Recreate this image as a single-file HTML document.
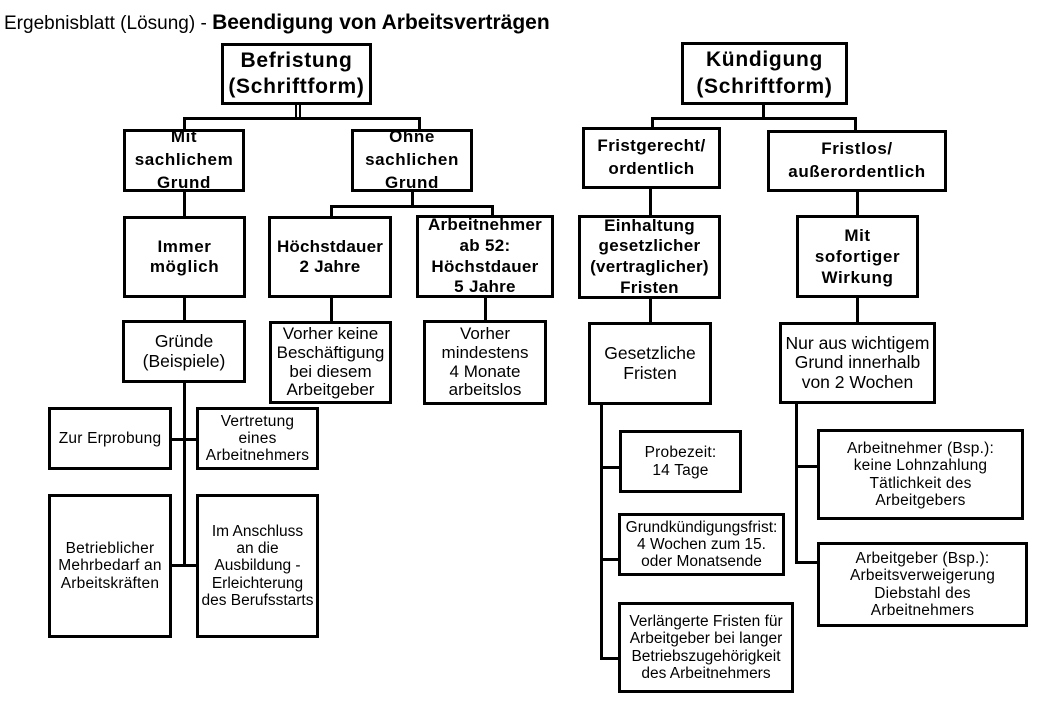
<!DOCTYPE html>
<html><head><meta charset="utf-8"><style>
body{margin:0;background:#fff;width:1042px;height:703px;position:relative;overflow:hidden;font-family:"Liberation Sans",Arial,sans-serif;color:#000}
.b{position:absolute;border:3px solid #000;box-sizing:border-box;display:flex;align-items:center;justify-content:center;text-align:center;background:#fff;line-height:1.2;white-space:nowrap}
.bd{font-weight:bold;font-size:17px;letter-spacing:0.6px}
.bg{font-weight:bold;font-size:21px;letter-spacing:0.7px;line-height:1.25}
.n{font-size:15.5px;line-height:1.1;letter-spacing:0.2px}
.m{font-size:17.5px;line-height:1.1}
.l{position:absolute;background:#000}
</style></head><body>
<div style="position:absolute;left:4px;top:11px;font-size:19px;white-space:nowrap">Ergebnisblatt (Lösung) - <b style="font-size:21px">Beendigung von Arbeitsverträgen</b></div>

<div class="l" style="left:295px;top:104px;width:2px;height:15px"></div>
<div class="l" style="left:299px;top:104px;width:2px;height:15px"></div>
<div class="l" style="left:183px;top:117px;width:238px;height:3px"></div>
<div class="l" style="left:183px;top:117px;width:3px;height:14px"></div>
<div class="l" style="left:418px;top:117px;width:3px;height:14px"></div>
<div class="l" style="left:411px;top:190px;width:3px;height:17px"></div>
<div class="l" style="left:330px;top:205px;width:164px;height:3px"></div>
<div class="l" style="left:330px;top:205px;width:3px;height:13px"></div>
<div class="l" style="left:491px;top:205px;width:3px;height:13px"></div>
<div class="l" style="left:183px;top:190px;width:3px;height:28px"></div>
<div class="l" style="left:183px;top:296px;width:3px;height:26px"></div>
<div class="l" style="left:330px;top:296px;width:3px;height:27px"></div>
<div class="l" style="left:484px;top:296px;width:3px;height:26px"></div>
<div class="l" style="left:183px;top:380px;width:3px;height:187px"></div>
<div class="l" style="left:170px;top:438px;width:28px;height:3px"></div>
<div class="l" style="left:170px;top:564px;width:28px;height:3px"></div>

<div class="b bg" style="left:221px;top:43px;width:151px;height:62px">Befristung<br>(Schriftform)</div>
<div class="b bd" style="left:123px;top:129px;width:122px;height:63px;line-height:1.35">Mit<br>sachlichem<br>Grund</div>
<div class="b bd" style="left:351px;top:129px;width:122px;height:63px;line-height:1.35">Ohne<br>sachlichen<br>Grund</div>
<div class="b bd" style="left:123px;top:216px;width:123px;height:82px">Immer<br>möglich</div>
<div class="b bd" style="left:268px;top:216px;width:124px;height:82px;letter-spacing:0.2px">Höchstdauer<br>2 Jahre</div>
<div class="b bd" style="left:416px;top:215px;width:138px;height:83px;line-height:1.22;letter-spacing:0.3px">Arbeitnehmer<br>ab 52:<br>Höchstdauer<br>5 Jahre</div>
<div class="b m" style="left:122px;top:320px;width:124px;height:63px">Gründe<br>(Beispiele)</div>
<div class="b m" style="left:269px;top:321px;width:123px;height:83px;font-size:17px;line-height:1.1">Vorher keine<br>Beschäftigung<br>bei diesem<br>Arbeitgeber</div>
<div class="b m" style="left:423px;top:320px;width:124px;height:85px;font-size:17px;line-height:1.1">Vorher<br>mindestens<br>4 Monate<br>arbeitslos</div>
<div class="b n" style="left:48px;top:407px;width:124px;height:63px">Zur Erprobung</div>
<div class="b n" style="left:196px;top:407px;width:123px;height:63px">Vertretung<br>eines<br>Arbeitnehmers</div>
<div class="b n" style="left:48px;top:494px;width:124px;height:144px">Betrieblicher<br>Mehrbedarf an<br>Arbeitskräften</div>
<div class="b n" style="left:196px;top:494px;width:123px;height:144px;letter-spacing:0">Im Anschluss<br>an die<br>Ausbildung -<br>Erleichterung<br>des Berufsstarts</div>

<div class="l" style="left:762px;top:103px;width:3px;height:16px"></div>
<div class="l" style="left:651px;top:117px;width:206px;height:3px"></div>
<div class="l" style="left:651px;top:117px;width:3px;height:12px"></div>
<div class="l" style="left:854px;top:117px;width:3px;height:15px"></div>
<div class="l" style="left:649px;top:187px;width:3px;height:30px"></div>
<div class="l" style="left:856px;top:190px;width:3px;height:27px"></div>
<div class="l" style="left:649px;top:297px;width:3px;height:27px"></div>
<div class="l" style="left:856px;top:296px;width:3px;height:28px"></div>
<div class="l" style="left:600px;top:403px;width:3px;height:257px"></div>
<div class="l" style="left:600px;top:466px;width:20px;height:3px"></div>
<div class="l" style="left:600px;top:558px;width:20px;height:3px"></div>
<div class="l" style="left:600px;top:657px;width:20px;height:3px"></div>
<div class="l" style="left:795px;top:402px;width:3px;height:162px"></div>
<div class="l" style="left:795px;top:465px;width:24px;height:3px"></div>
<div class="l" style="left:795px;top:561px;width:24px;height:3px"></div>

<div class="b bg" style="left:681px;top:42px;width:167px;height:63px">Kündigung<br>(Schriftform)</div>
<div class="b bd" style="left:582px;top:127px;width:139px;height:62px;line-height:1.35;letter-spacing:0.4px">Fristgerecht/<br>ordentlich</div>
<div class="b bd" style="left:767px;top:130px;width:180px;height:62px;line-height:1.35">Fristlos/<br>außerordentlich</div>
<div class="b bd" style="left:578px;top:215px;width:143px;height:84px;line-height:1.22;letter-spacing:0.3px">Einhaltung<br>gesetzlicher<br>(vertraglicher)<br>Fristen</div>
<div class="b bd" style="left:796px;top:215px;width:123px;height:83px;line-height:1.25">Mit<br>sofortiger<br>Wirkung</div>
<div class="b m" style="left:588px;top:322px;width:124px;height:83px">Gesetzliche<br>Fristen</div>
<div class="b m" style="left:779px;top:322px;width:157px;height:82px">Nur aus wichtigem<br>Grund innerhalb<br>von 2 Wochen</div>
<div class="b n" style="left:619px;top:430px;width:123px;height:63px">Probezeit:<br>14 Tage</div>
<div class="b n" style="left:618px;top:513px;width:167px;height:63px;letter-spacing:0">Grundkündigungsfrist:<br>4 Wochen zum 15.<br>oder Monatsende</div>
<div class="b n" style="left:618px;top:602px;width:176px;height:91px;letter-spacing:0">Verlängerte Fristen für<br>Arbeitgeber bei langer<br>Betriebszugehörigkeit<br>des Arbeitnehmers</div>
<div class="b n" style="left:817px;top:429px;width:207px;height:91px">Arbeitnehmer (Bsp.):<br>keine Lohnzahlung<br>Tätlichkeit des<br>Arbeitgebers</div>
<div class="b n" style="left:817px;top:542px;width:211px;height:85px">Arbeitgeber (Bsp.):<br>Arbeitsverweigerung<br>Diebstahl des<br>Arbeitnehmers</div>
</body></html>
